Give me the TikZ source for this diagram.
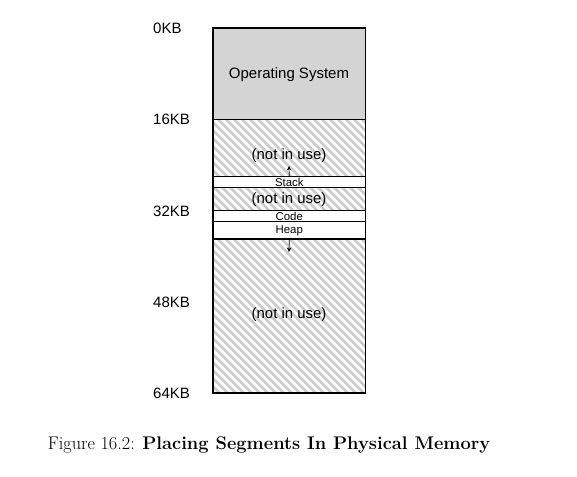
\documentclass[tikz,border=0pt]{standalone}
\usepackage{fontspec}
\setsansfont{Liberation Sans}
\usetikzlibrary{arrows.meta}
\begin{document}
\begin{tikzpicture}[x=1pt,y=-1pt,
  kblabel/.style={font=\sffamily\fontsize{15}{18}\selectfont, anchor=west, inner sep=0pt},
  ostext/.style={font=\sffamily\fontsize{15}{18}\selectfont, inner sep=0pt},
  freetext/.style={font=\sffamily\fontsize{14.9}{17}\selectfont, inner sep=0pt},
  segtext/.style={font=\sffamily\fontsize{11.4}{13}\selectfont, inner sep=0pt},
  region/.style={draw=black, line width=1.1pt, minimum width=152.5pt, anchor=north west, inner sep=0pt, outer sep=0pt},
  hatchline/.style={line width=2.7pt, draw=black!20},
  growarrow/.style={-{Stealth[length=4.5pt,width=4.5pt]}, line width=0.7pt}]
\useasboundingbox (0,0) rectangle (577,476);
\def\L{213}
\def\R{365.5}
\def\U{5.703}
% hatching of the free space
\begin{scope}
  \clip (\L,{28+\U*16}) rectangle (\R,{28+\U*64});
  \foreach \i in {-40,...,22} \draw[hatchline] ({\L+8*\i},{28+\U*16-5}) -- ++(320,320);
\end{scope}
% regions
\node[region, fill=black!17, minimum height={\U*16*1pt}] (os) at (\L,28) {};
\node[region, minimum height={\U*10*1pt}] (free1) at (\L,{28+\U*16}) {};
\node[region, fill=white, minimum height={\U*2*1pt}] (stack) at (\L,{28+\U*26}) {};
\node[region, minimum height={\U*4*1pt}] (free2) at (\L,{28+\U*28}) {};
\node[region, fill=white, minimum height={\U*2*1pt}] (code) at (\L,{28+\U*32}) {};
\node[region, fill=white, minimum height={\U*3*1pt}] (heap) at (\L,{28+\U*34}) {};
\node[region, minimum height={\U*27*1pt}] (free3) at (\L,{28+\U*37}) {};
% texts
\node[ostext] (ostxt) at (289,75) {Operating System};
\node[freetext] (f1txt) at (289,156) {(not in use)};
\node[segtext] (sttxt) at (stack.center) {Stack};
\node[freetext] (f2txt) at (289,200) {(not in use)};
\node[segtext] (cdtxt) at (code.center) {Code};
\node[segtext] (hptxt) at (heap.center) {Heap};
\node[freetext] (f3txt) at (289,314.5) {(not in use)};
% growth arrows
\coordinate (stackend) at (289,166);
\coordinate (heapend) at (289,252);
\draw[growarrow] (stack.north) -- (stackend);
\draw[growarrow] (heap.south) -- (heapend);
% address labels
\node[kblabel] (k0) at (153,28.5) {0KB};
\node[kblabel] (k16) at (153,{28.5+\U*16}) {16KB};
\node[kblabel] (k32) at (153,{28.5+\U*32}) {32KB};
\node[kblabel] (k48) at (153,{28.5+\U*48}) {48KB};
\node[kblabel] (k64) at (153,{28.5+\U*64}) {64KB};
% caption
\node[anchor=base, inner sep=0pt, font=\fontsize{18.3}{21}\selectfont] (cap) at (269,449.3) {Figure 16.2: \textbf{Placing Segments In Physical Memory}};
\end{tikzpicture}
\end{document}
